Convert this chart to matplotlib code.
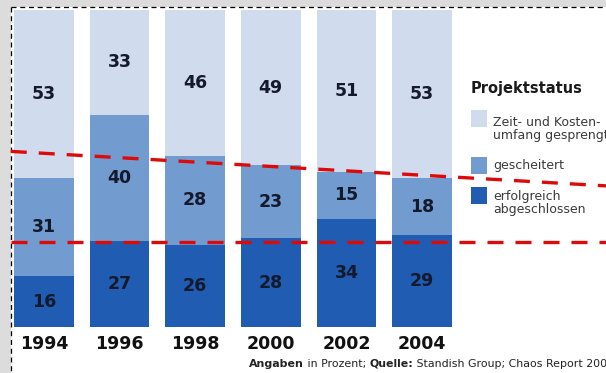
import matplotlib
matplotlib.use('Agg')
from matplotlib import pyplot as plt
from matplotlib.patches import Rectangle

years = ['1994', '1996', '1998', '2000', '2002', '2004']
erfolgreich = [16, 27, 26, 28, 34, 29]
gescheitert = [31, 40, 28, 23, 15, 18]
gesprengt = [53, 33, 46, 49, 51, 53]

legend_labels = ['Zeit- und Kosten-\numfang gesprengt', 'gescheitert', 'erfolgreich\nabgeschlossen']
colors = ['#d0dcee', '#729bd0', '#1f5cb2']

# red annotation lines (x in category index, y in percent)
flat_line_x = [-0.44, 7.45]
flat_line_y = [26.8, 26.8]
slope_line_x = [-0.44, 7.45]
slope_line_y = [55.4, 44.5]

W, H = 606, 373
fig = plt.figure(figsize=(W / 100, H / 100), dpi=100)
fig.patch.set_facecolor('#dcdcdc')

# background panel in pixel coordinates
bg = fig.add_axes([0, 0, 1, 1], zorder=0)
bg.set_xlim(0, W)
bg.set_ylim(H, 0)
bg.axis('off')
bg.add_patch(Rectangle((10.5, 7), W, H, facecolor='white', edgecolor='none'))
bg.plot([10.5, 10.5], [7, H], color='black', lw=0.9, ls=(0, (4, 3)))
bg.plot([10.5, W], [7, 7], color='black', lw=0.9, ls=(0, (4, 3)))

ax = fig.add_axes([11 / W, (H - 327) / H, (455 - 11) / W, 317 / H], zorder=1)
ax.set_facecolor('none')
x = list(range(len(years)))
width = 0.79
bottoms = [0] * len(years)
for vals, col in zip([erfolgreich, gescheitert, gesprengt], colors[::-1]):
    ax.bar(x, vals, width, bottom=bottoms, color=col, edgecolor='none', zorder=2)
    for i, v in enumerate(vals):
        ax.text(i, bottoms[i] + v / 2, str(v), ha='center', va='center',
                fontsize=12.5, fontweight='bold', color='#141a2c', zorder=3)
    bottoms = [b + v for b, v in zip(bottoms, vals)]

ax.set_xlim(-0.437, 5.437)
ax.set_ylim(0, 100)
for s in ax.spines.values():
    s.set_visible(False)
ax.set_yticks([])
ax.set_xticks(x)
ax.set_xticklabels(years, fontsize=12.5, fontweight='bold', color='#111111')
ax.tick_params(axis='x', length=0, pad=6)

for lx, ly in [(flat_line_x, flat_line_y), (slope_line_x, slope_line_y)]:
    ax.plot(lx, ly, color='#dd0a0a', lw=2.4, ls=(0, (4.8, 3.6)), clip_on=False, zorder=5)

# legend
bg.text(471, 88, 'Projektstatus', fontsize=10.5, fontweight='bold',
        color='#1a1a1a', va='center', ha='left')
box_y = [110, 157, 187]
text_y = [129, 166, 203]
for by, ty, lab, col in zip(box_y, text_y, legend_labels, colors):
    bg.add_patch(Rectangle((471, by), 16, 17, facecolor=col, edgecolor='none'))
    bg.text(493, ty, lab, fontsize=9, color='#3a3a3a', va='center', ha='left',
            linespacing=0.95)

# source line
parts = [('Angaben', 'bold'), (' in Prozent; ', 'normal'), ('Quelle:', 'bold'),
         (' Standish Group; Chaos Report 2004', 'normal')]
prev = bg.text(249, 367, parts[0][0], fontsize=7.9, fontweight=parts[0][1],
               color='#222222', va='baseline', ha='left')
for txt, wt in parts[1:]:
    prev = bg.annotate(txt, xy=(1, 0), xycoords=prev, fontsize=7.9, fontweight=wt,
                       color='#222222', va='bottom', ha='left', annotation_clip=False)

fig.savefig('out.png', dpi=100, facecolor=fig.get_facecolor())
